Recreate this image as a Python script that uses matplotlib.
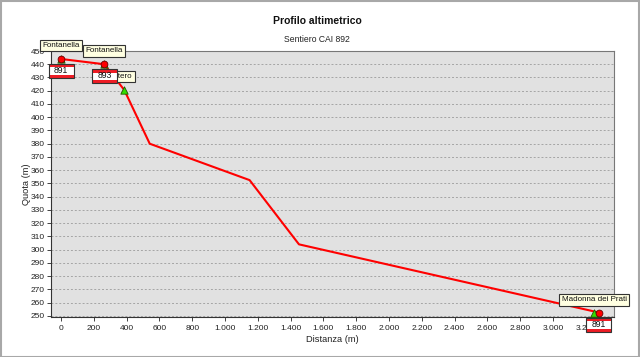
import numpy as np
import matplotlib
matplotlib.use('Agg')
import matplotlib.pyplot as plt
import matplotlib.transforms as mtransforms
from matplotlib.patches import Rectangle
from matplotlib.ticker import FuncFormatter, MultipleLocator

plt.rcParams['font.family'] = ['Liberation Sans', 'DejaVu Sans']

# profilo (distanza in m, quota in m)
dist = [0, 264, 386, 541, 1150, 1451, 3280]
quota = [444, 440, 420.5, 380, 352.5, 304, 252.5]

# incroci sentieri CAI (cerchi rossi + cartello)
inc_dist = [0, 264, 3280]
inc_quota = [444, 440, 252.5]
inc_num = ['891', '893', '891']

# punti notevoli (triangoli verdi + etichetta)
wp_dist = [0, 264, 386, 3250]
wp_quota = [444, 440, 420.5, 252]
wp_nome = ['Fontanella', 'Fontanella', 'Cimitero', 'Madonna dei Prati']
wp_dx = [0, 0, -7, 0]

fig = plt.figure(figsize=(6.4, 3.57), dpi=100)
fig.patches.append(Rectangle((0.001, 0.001), 0.998, 0.996, transform=fig.transFigure,
                             fill=False, edgecolor='#A8A8A8', linewidth=1.5))
ax = fig.add_axes([0.0797, 0.1134, 0.8797, 0.7437])
ax.set_facecolor('#E1E1E1')

ax.plot(dist, quota, color='#FF0000', linewidth=1.5, zorder=3)
ax.scatter(wp_dist, wp_quota, marker='^', s=28, color='#33DD00', edgecolors='#225500',
           linewidths=0.6, zorder=4, clip_on=False)
ax.scatter(inc_dist, inc_quota, marker='o', s=24, color='#FF0000', edgecolors='#660000',
           linewidths=0.6, zorder=5, clip_on=False)

for x, y, nome, dx in zip(wp_dist, wp_quota, wp_nome, wp_dx):
    ax.annotate(nome, (x, y), xytext=(dx, 10), textcoords='offset pixels',
                ha='center', va='bottom', fontsize=5.8, color='#111111',
                bbox=dict(boxstyle='square,pad=0.3', fc='#FFFFE1', ec='#333333', lw=0.8),
                annotation_clip=False, zorder=6)


def cartello(x, y, num):
    tr = mtransforms.Affine2D().translate(0, -12) + \
        mtransforms.ScaledTranslation(x, y, ax.transData)
    w, h = 25, 14
    ax.add_patch(Rectangle((-w / 2, -h / 2), w, h, transform=tr, facecolor='white',
                           edgecolor='none', zorder=7, clip_on=False))
    ax.add_patch(Rectangle((-w / 2, h / 2 - 3.5), w, 3.5, transform=tr, facecolor='#EE1C25',
                           edgecolor='none', zorder=7, clip_on=False))
    ax.add_patch(Rectangle((-w / 2, -h / 2), w, 3, transform=tr, facecolor='#EE1C25',
                           edgecolor='none', zorder=7, clip_on=False))
    ax.add_patch(Rectangle((-w / 2, -h / 2), w, h, transform=tr, fill=False,
                           edgecolor='#333333', lw=0.8, zorder=7, clip_on=False))
    ax.text(0, 0.5, num, transform=tr, ha='center', va='center', fontsize=6.2,
            color='#111111', zorder=8, clip_on=False)


for x, y, num in zip(inc_dist, inc_quota, inc_num):
    cartello(x, y, num)

ax.set_xlim(-61, 3372)
ax.set_ylim(249.5, 450)
ax.yaxis.set_major_locator(MultipleLocator(10))
ax.xaxis.set_major_formatter(FuncFormatter(lambda v, p: f"{int(v):,}".replace(',', '.')))
ax.set_xticks(np.arange(0, 3201, 200))
ax.yaxis.grid(True, color='#A5A5A5', linestyle=(0, (2, 2)), linewidth=0.7)
ax.set_axisbelow(True)
ax.tick_params(labelsize=6, colors='#222222', length=3, width=0.6, pad=1.5)
ax.tick_params(axis='x', pad=3)
for s in ax.spines.values():
    s.set_color('#777777')
    s.set_linewidth(0.8)
ax.spines['left'].set_color('#333333')
ax.spines['bottom'].set_color('#333333')

ax.set_xlabel('Distanza (m)', fontsize=6.7, color='#222222', labelpad=2)
ax.set_ylabel('Quota (m)', fontsize=6.7, color='#222222', labelpad=0)

fig.text(0.496, 0.94, 'Profilo altimetrico', ha='center', va='center', fontsize=7.5,
         fontweight='bold', color='#111111')
fig.text(0.495, 0.888, 'Sentiero CAI 892', ha='center', va='center', fontsize=6.2,
         color='#222222')

fig.savefig('out.png', dpi=100)
